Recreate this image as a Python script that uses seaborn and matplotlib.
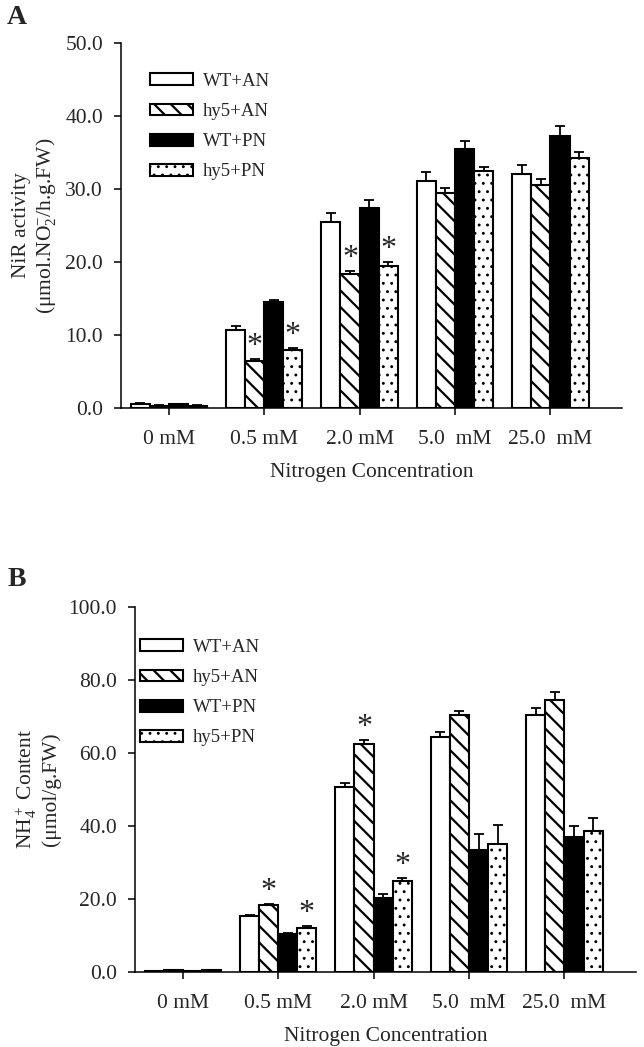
import numpy as np
import pandas as pd
import matplotlib
matplotlib.use("Agg")
import matplotlib.pyplot as plt
import seaborn as sns

# ---------------- data ----------------
concentrations = ["0 mM", "0.5 mM", "2.0 mM", "5.0  mM", "25.0  mM"]
treatments = ["WT+AN", "hy5+AN", "WT+PN", "hy5+PN"]

# Panel A: NiR activity
nir_wt_an = [0.6, 10.7, 25.5, 31.1, 32.0]
nir_hy5_an = [0.3, 6.4, 18.3, 29.4, 30.6]
nir_wt_pn = [0.5, 14.5, 27.4, 35.5, 37.2]
nir_hy5_pn = [0.3, 8.0, 19.4, 32.4, 34.3]
nir_err_wt_an = [0.1, 0.6, 1.2, 1.2, 1.3]
nir_err_hy5_an = [0.1, 0.3, 0.5, 0.8, 0.8]
nir_err_wt_pn = [0.1, 0.3, 1.1, 1.1, 1.4]
nir_err_hy5_pn = [0.1, 0.2, 0.6, 0.6, 0.8]
nir_sig = [("0.5 mM", "hy5+AN"), ("0.5 mM", "hy5+PN"),
           ("2.0 mM", "hy5+AN"), ("2.0 mM", "hy5+PN")]

# Panel B: NH4+ content
nh4_wt_an = [0.3, 15.4, 50.7, 64.5, 70.4]
nh4_hy5_an = [0.5, 18.3, 62.4, 70.4, 74.6]
nh4_wt_pn = [0.3, 10.4, 20.4, 33.4, 36.9]
nh4_hy5_pn = [0.5, 12.0, 24.8, 35.2, 38.5]
nh4_err_wt_an = [0.1, 0.2, 1.1, 1.3, 2.0]
nh4_err_hy5_an = [0.1, 0.2, 1.1, 1.2, 2.2]
nh4_err_wt_pn = [0.1, 0.2, 0.9, 4.5, 3.1]
nh4_err_hy5_pn = [0.1, 0.5, 0.9, 5.2, 3.6]
nh4_sig = [("0.5 mM", "hy5+AN"), ("0.5 mM", "hy5+PN"),
           ("2.0 mM", "hy5+AN"), ("2.0 mM", "hy5+PN")]

yticks_a = [0, 10, 20, 30, 40, 50]
yticks_b = [0, 20, 40, 60, 80, 100]

# ---------------- style ----------------
sns.set_theme(style="ticks")
plt.rcParams["font.family"] = ["Liberation Serif", "DejaVu Serif"]
plt.rcParams["mathtext.fontset"] = "custom"
plt.rcParams["mathtext.rm"] = "Liberation Serif"
plt.rcParams["mathtext.it"] = "Liberation Serif:italic"
plt.rcParams["mathtext.bf"] = "Liberation Serif:bold"
plt.rcParams["hatch.linewidth"] = 1.6
plt.rcParams["hatch.color"] = "black"

face_colors = {"WT+AN": "white", "hy5+AN": "white", "WT+PN": "black", "hy5+PN": "white"}
hatches = {"WT+AN": "", "hy5+AN": "\\\\", "WT+PN": "", "hy5+PN": ".."}
hatch_lw = {"WT+AN": 1.6, "hy5+AN": 1.6, "WT+PN": 1.6, "hy5+PN": 0.9}

FS = 15.5


def long_df(vals, errs):
    rows = []
    for t, v, e in zip(treatments, vals, errs):
        for c, vv, ee in zip(concentrations, v, e):
            rows.append({"conc": c, "treatment": t, "value": vv, "err": ee})
    return pd.DataFrame(rows)


def draw_panel(ax, df, sig, yticks, ylabel, xlim, legend_anchor, fig):
    sns.barplot(data=df, x="conc", y="value", hue="treatment",
                order=concentrations, hue_order=treatments,
                palette=face_colors, edgecolor="black", linewidth=1.5,
                errorbar=None, width=0.8, saturation=1, ax=ax)
    if ax.get_legend() is not None:
        ax.get_legend().remove()
    handles = []
    for t, cont in zip(treatments, ax.containers):
        sub = df[df["treatment"] == t].set_index("conc").loc[concentrations]
        xs, tops = [], []
        for bar in cont:
            bar.set_hatch(hatches[t])
            if hasattr(bar, "set_hatch_linewidth"):
                bar.set_hatch_linewidth(hatch_lw[t])
            bar.set_edgecolor("black")
            bar.set_zorder(2)
            xs.append(bar.get_x() + bar.get_width() / 2)
            tops.append(bar.get_height())
        errs = sub["err"].values
        ax.errorbar(xs, tops, yerr=[np.zeros(len(errs)), errs], fmt="none",
                    ecolor="black", elinewidth=1.3, capsize=3.6, capthick=1.3,
                    zorder=1)
        for (c, tt) in sig:
            if tt == t:
                i = concentrations.index(c)
                ax.annotate("*", xy=(xs[i], tops[i] + errs[i]), xytext=(0, 9),
                            textcoords="offset points", ha="center", va="center",
                            fontsize=23)
        handles.append(cont[0])
    leg = ax.legend(handles, treatments, loc="upper left",
                    bbox_to_anchor=legend_anchor, bbox_transform=fig.transFigure,
                    frameon=False, fontsize=13.5, handlelength=2.3,
                    handleheight=0.6, handletextpad=0.5, labelspacing=0.7,
                    borderpad=0, borderaxespad=0)
    if hasattr(leg, "legend_handles"):
        for h, t in zip(leg.legend_handles, treatments):
            if hasattr(h, "set_hatch_linewidth"):
                h.set_hatch_linewidth(hatch_lw[t])
    ax.set_xlim(*xlim)
    ax.set_ylim(yticks[0], yticks[-1])
    ax.set_yticks(yticks)
    ax.set_yticklabels([f"{v:.1f}" for v in yticks], fontsize=FS)
    ax.set_xticks(range(len(concentrations)))
    ax.set_xticklabels(concentrations, fontsize=FS)
    ax.tick_params(axis="y", direction="out", length=5, width=1.1, color="black", pad=8)
    ax.tick_params(axis="x", direction="out", length=5, width=1.1, color="black", pad=11)
    ax.set_xlabel("Nitrogen Concentration", fontsize=FS, labelpad=10)
    ax.set_ylabel(ylabel, fontsize=FS, labelpad=5, linespacing=1.2)
    for s in ["top", "right"]:
        ax.spines[s].set_visible(False)
    for s in ["left", "bottom"]:
        ax.spines[s].set_linewidth(1.1)
        ax.spines[s].set_color("black")


W, H = 644, 1047
fig = plt.figure(figsize=(W / 100, H / 100), dpi=100)
fig.patch.set_facecolor("white")

axA = fig.add_axes([121 / W, 1 - 408 / H, (622 - 121) / W, 365 / H])
axB = fig.add_axes([135 / W, 1 - 972 / H, (636 - 135) / W, 365 / H])

dfA = long_df([nir_wt_an, nir_hy5_an, nir_wt_pn, nir_hy5_pn],
              [nir_err_wt_an, nir_err_hy5_an, nir_err_wt_pn, nir_err_hy5_pn])
dfB = long_df([nh4_wt_an, nh4_hy5_an, nh4_wt_pn, nh4_hy5_pn],
              [nh4_err_wt_an, nh4_err_hy5_an, nh4_err_wt_pn, nh4_err_hy5_pn])

draw_panel(axA, dfA, nir_sig, yticks_a,
           "NiR activity\n(\u03bcmol.NO$_2^{-}$/h.g.FW)", (-0.5, 4.75),
           (150 / W, 1 - 73 / H), fig)
draw_panel(axB, dfB, nh4_sig, yticks_b,
           "NH$_4^+$ Content\n(\u03bcmol/g.FW)", (-0.5, 4.75),
           (140 / W, 1 - 639 / H), fig)

fig.text(17 / W, 1 - 18 / H, "A", fontsize=20, fontweight="bold", ha="center", va="center")
fig.text(17 / W, 1 - 580 / H, "B", fontsize=20, fontweight="bold", ha="center", va="center")

fig.savefig("out.png", dpi=100, facecolor="white")
